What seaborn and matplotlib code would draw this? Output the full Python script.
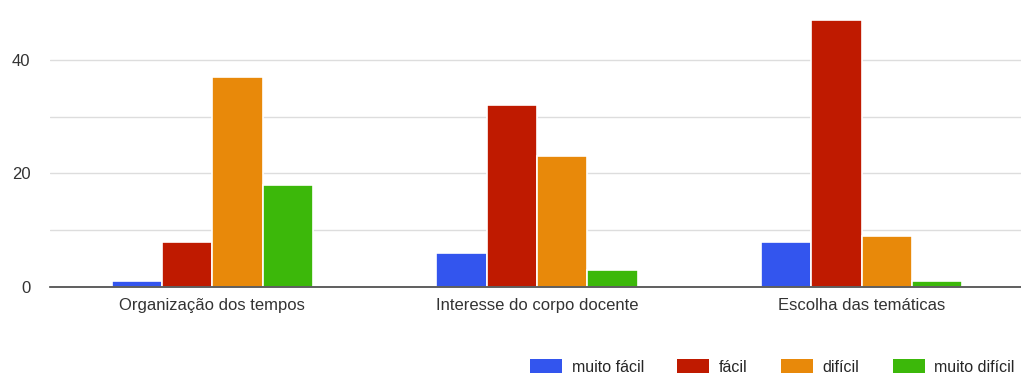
import matplotlib
matplotlib.use("Agg")
import matplotlib.pyplot as plt
import seaborn as sns
import pandas as pd
from matplotlib.ticker import FixedLocator
from matplotlib.patches import Patch

categories = ["Organização dos tempos", "Interesse do corpo docente", "Escolha das temáticas"]
series_names = ["muito fácil", "fácil", "difícil", "muito difícil"]
muito_facil = [1, 6, 8]
facil = [8, 32, 47]
dificil = [37, 23, 9]
muito_dificil = [18, 3, 1]
colors = ["#3355ee", "#bf1a00", "#e8890a", "#3cb80a"]

rows = []
for name, vals in zip(series_names, [muito_facil, facil, dificil, muito_dificil]):
    for c, v in zip(categories, vals):
        rows.append({"categoria": c, "resposta": name, "valor": v})
df = pd.DataFrame(rows)

sns.set_theme(style="white")
plt.rcParams["font.family"] = ["Liberation Sans", "DejaVu Sans"]

fig = plt.figure(figsize=(10.21, 3.76), dpi=100)
ax = fig.add_axes([50 / 1021, 89 / 376, (1024 - 50) / 1021, (287 - 3) / 376])

sns.barplot(data=df, x="categoria", y="valor", hue="resposta", order=categories,
            hue_order=series_names, palette=colors, width=0.62, saturation=1,
            edgecolor="white", linewidth=1.2, ax=ax, legend=False)

ax.set_xlim(-0.5, 2.5)
ax.set_ylim(0, 50)
ax.yaxis.set_major_locator(FixedLocator([0, 20, 40]))
ax.yaxis.set_minor_locator(FixedLocator([10, 30]))
ax.grid(True, axis="y", which="both", color="#dddddd", linewidth=1)
ax.set_axisbelow(True)
for s in ["top", "right", "left"]:
    ax.spines[s].set_visible(False)
ax.spines["bottom"].set_color("#444444")
ax.spines["bottom"].set_linewidth(1.2)
ax.set_xlabel("")
ax.set_ylabel("")
ax.tick_params(axis="both", which="both", length=0, labelsize=12, colors="#333333")
ax.tick_params(axis="y", pad=14)
ax.tick_params(axis="x", pad=8)

handles = [Patch(facecolor=c, edgecolor="none") for c in colors]
fig.legend(handles, series_names, loc="lower right", bbox_to_anchor=(1.008, -0.035),
           ncol=4, frameon=False, fontsize=11.5, handlelength=2.0, handleheight=1.0,
           columnspacing=2.1, handletextpad=0.6)

fig.savefig("out.png", dpi=100)
